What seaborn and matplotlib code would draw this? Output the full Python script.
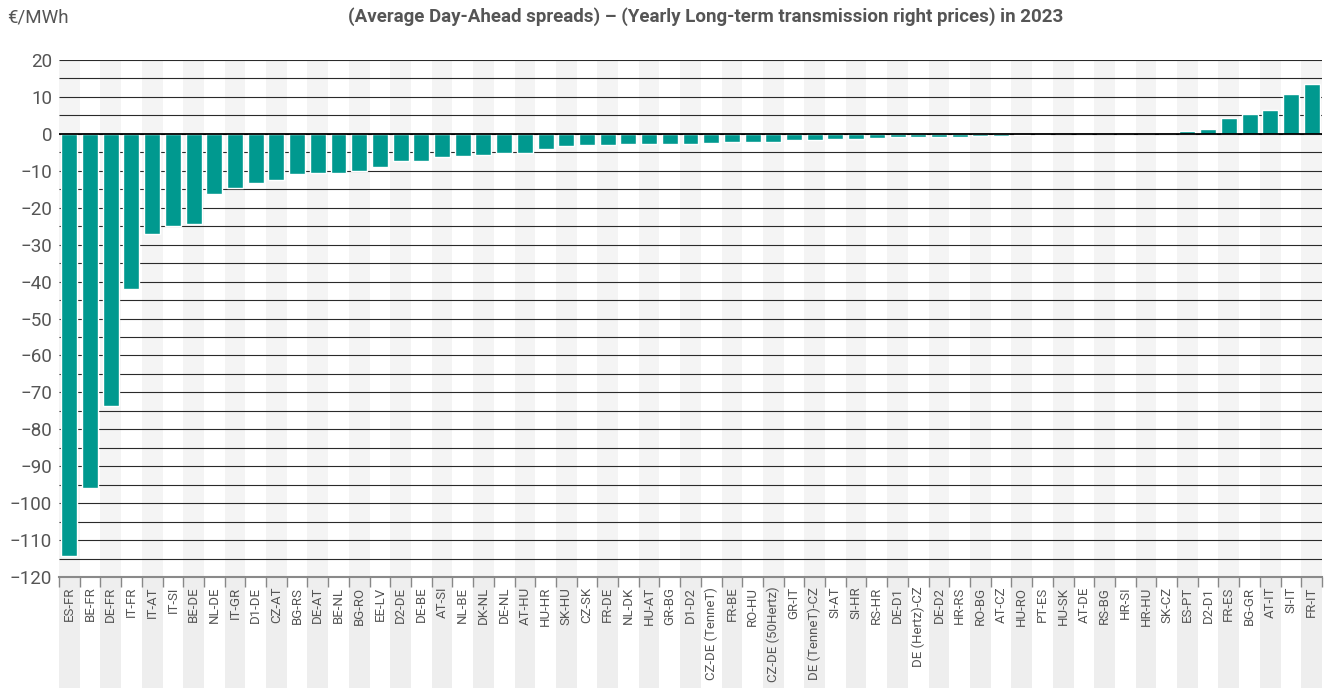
import numpy as np
import pandas as pd
import seaborn as sns
import matplotlib.pyplot as plt
from matplotlib.patches import Rectangle
import matplotlib.transforms as mtransforms

# Border names and their 2023 values (EUR/MWh)
borders = [
    "ES-FR", "BE-FR", "DE-FR", "IT-FR", "IT-AT", "IT-SI", "BE-DE", "NL-DE",
    "IT-GR", "D1-DE", "CZ-AT", "BG-RS", "DE-AT", "BE-NL", "BG-RO", "EE-LV",
    "D2-DE", "DE-BE", "AT-SI", "NL-BE", "DK-NL", "DE-NL", "AT-HU", "HU-HR",
    "SK-HU", "CZ-SK", "FR-DE", "NL-DK", "HU-AT", "GR-BG", "D1-D2",
    "CZ-DE (TenneT)", "FR-BE", "RO-HU", "CZ-DE (50Hertz)", "GR-IT",
    "DE (TenneT)-CZ", "SI-AT", "SI-HR", "RS-HR", "DE-D1", "DE (Hertz)-CZ",
    "DE-D2", "HR-RS", "RO-BG", "AT-CZ", "HU-RO", "PT-ES", "HU-SK", "AT-DE",
    "RS-BG", "HR-SI", "HR-HU", "SK-CZ", "ES-PT", "D2-D1", "FR-ES", "BG-GR",
    "AT-IT", "SI-IT", "FR-IT",
]
spreads = [
    -114.3, -95.9, -73.8, -42.0, -27.1, -24.9, -24.4, -16.2,
    -14.6, -13.2, -12.4, -11.0, -10.5, -10.5, -10.0, -9.1,
    -7.3, -7.3, -6.2, -5.9, -5.6, -5.3, -5.1, -4.1,
    -3.4, -3.0, -3.0, -2.7, -2.7, -2.7, -2.7,
    -2.4, -2.2, -2.2, -2.2, -1.6,
    -1.6, -1.35, -1.35, -1.1, -0.9, -0.85,
    -0.8, -0.75, -0.7, -0.65, -0.4, -0.35, -0.05, 0.0,
    0.25, 0.25, 0.25, 0.25, 0.8, 1.45, 4.35, 5.4,
    6.5, 10.9, 13.6,
]
grid_levels = list(range(-115, 21, 5))

title = "(Average Day-Ahead spreads) \u2013 (Yearly Long-term transmission right prices) in 2023"
unit_label = "\u20ac/MWh"

teal = "#00998f"
text_grey = "#555555"

df = pd.DataFrame({"border": borders, "value": spreads})

sns.set_theme(style="white")
plt.rcParams["font.family"] = ["Roboto", "DejaVu Sans"]

fig = plt.figure(figsize=(13.24, 6.88), dpi=100)
ax = fig.add_axes([59 / 1324, 1 - 577 / 688, (1322 - 59) / 1324, (577 - 60) / 688])

n = len(borders)

# alternating grey columns, also running down behind the tick labels
trans = mtransforms.blended_transform_factory(ax.transData, ax.transAxes)
for i in range(0, n, 2):
    ax.axvspan(i - 0.5, i + 0.5, color="#f4f4f4", lw=0, zorder=0)
    ax.add_patch(Rectangle((i - 0.5, -0.3), 1, 0.3, transform=trans,
                           facecolor="#eeeeee", lw=0, clip_on=False, zorder=0))

# gridlines every 5
ax.hlines(grid_levels, -0.5, n - 0.5, colors="#2a2a2a", lw=0.8, zorder=1,
          capstyle="butt")

sns.barplot(data=df, x="border", y="value", color=teal, width=0.77,
            saturation=1, ax=ax, zorder=3)

ax.hlines([0], -0.5, n - 0.5, colors="black", lw=1.3, zorder=4,
          capstyle="butt")

ax.set_xlim(-0.5, n - 0.5)
ax.set_ylim(-120, 20)

ax.set_yticks(np.arange(-120, 21, 10))
ax.tick_params(axis="y", which="both", length=0, left=False, pad=5,
               labelsize=13.5, labelcolor=text_grey)

ax.set_xticks(range(n))
ax.set_xticklabels(borders, rotation=90, fontsize=9.5, color=text_grey)
ax.set_xticks(np.arange(-0.5, n, 1), minor=True)
ax.tick_params(axis="x", which="major", length=0, pad=7)
ax.tick_params(axis="x", which="minor", length=7, width=1, color="#888888",
               direction="out")
ax.xaxis.set_ticks_position("bottom")

for side in ["top", "left", "right"]:
    ax.spines[side].set_visible(False)
ax.spines["bottom"].set_color("#8a8a8a")
ax.spines["bottom"].set_linewidth(1.5)
ax.spines["bottom"].set_zorder(5)

ax.set_xlabel("")
ax.set_ylabel("")

fig.text(7 / 1324, 1 - 17 / 688, unit_label, fontsize=13.5, color=text_grey,
         ha="left", va="center")
fig.text(706 / 1324, 1 - 17 / 688, title, fontsize=13.5, fontweight="bold",
         color=text_grey, ha="center", va="center")

fig.savefig("out.png", dpi=100)
